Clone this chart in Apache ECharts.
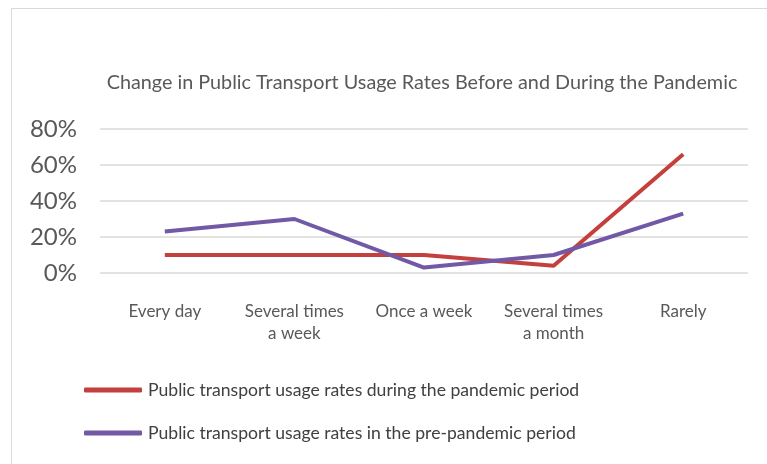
<!DOCTYPE html>
<html>
<head>
<meta charset="utf-8">
<script src="https://cdn.jsdelivr.net/npm/echarts@6/dist/echarts.min.js"></script>
<style>
  html, body { margin: 0; padding: 0; background: #fff; }
  #chart { width: 767px; height: 464px; }
</style>
</head>
<body>
<div id="chart"></div>
<script>
// Usage frequency categories (x axis)
const categories = ['Every day', 'Several times\na week', 'Once a week', 'Several times\na month', 'Rarely'];
// Share of respondents (%) for each frequency
const duringPandemic = [10, 10, 10, 4, 66];
const prePandemic = [23, 30, 3, 10, 33];
// Y axis tick values (%)
const yTicks = [0, 20, 40, 60, 80];

const seriesNames = [
  'Public transport usage rates during the pandemic period',
  'Public transport usage rates in the pre-pandemic period'
];
const colors = ['#C4403D', '#7159A6'];
const fontFamily = 'Lato, "Open Sans", sans-serif';

const chart = echarts.init(document.getElementById('chart'), null, { renderer: 'canvas' });

chart.setOption({
  backgroundColor: '#ffffff',
  animation: false,
  title: {
    text: 'Change in Public Transport Usage Rates Before and During the Pandemic',
    left: 417,
    top: 68,
    textAlign: 'center',
    textStyle: { fontFamily, fontSize: 19.8, fontWeight: 'normal', color: '#595959' }
  },
  graphic: [{
    type: 'rect',
    shape: { x: 11.5, y: 8.5, width: 800, height: 500 },
    style: { fill: 'none', stroke: '#d9d9d9', lineWidth: 1 },
    silent: true
  }],
  legend: {
    orient: 'vertical',
    left: 79,
    top: 376,
    itemWidth: 58,
    itemHeight: 5,
    itemGap: 25,
    icon: 'roundRect',
    data: seriesNames,
    textStyle: { fontFamily, fontSize: 17.6, color: '#404040', padding: [0, 0, 0, 1] }
  },
  grid: { left: 100, right: 19, top: 129, bottom: 191, containLabel: false },
  xAxis: {
    type: 'category',
    data: categories,
    boundaryGap: true,
    axisLine: { show: false },
    axisTick: { show: false },
    axisLabel: {
      margin: 28,
      fontFamily,
      fontSize: 17,
      lineHeight: 22,
      color: '#595959',
      interval: 0
    }
  },
  yAxis: {
    type: 'value',
    min: yTicks[0],
    max: yTicks[yTicks.length - 1],
    interval: yTicks[1] - yTicks[0],
    axisLine: { show: false },
    axisTick: { show: false },
    axisLabel: {
      margin: 23,
      fontFamily,
      fontSize: 24,
      color: '#595959',
      formatter: v => v + '%'
    },
    splitLine: { lineStyle: { color: '#d9d9d9', width: 1.5 } }
  },
  series: [
    {
      name: seriesNames[0],
      type: 'line',
      data: duringPandemic,
      symbol: 'none',
      lineStyle: { width: 4, color: colors[0] },
      itemStyle: { color: colors[0] }
    },
    {
      name: seriesNames[1],
      type: 'line',
      data: prePandemic,
      symbol: 'none',
      lineStyle: { width: 4, color: colors[1] },
      itemStyle: { color: colors[1] }
    }
  ]
});
</script>
</body>
</html>
